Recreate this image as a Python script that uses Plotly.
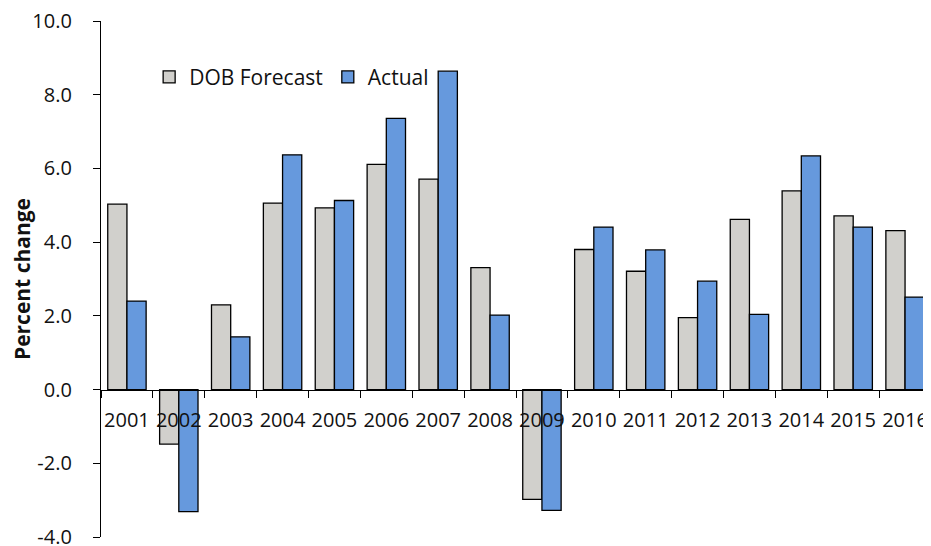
import plotly.graph_objects as go

years = ["2001", "2002", "2003", "2004", "2005", "2006", "2007", "2008",
         "2009", "2010", "2011", "2012", "2013", "2014", "2015", "2016"]
dob_forecast = [5.03, -1.48, 2.30, 5.06, 4.93, 6.11, 5.71, 3.31,
                -2.98, 3.80, 3.21, 1.95, 4.62, 5.39, 4.71, 4.31]
actual = [2.40, -3.31, 1.43, 6.37, 5.13, 7.36, 8.64, 2.02,
          -3.28, 4.41, 3.79, 2.94, 2.04, 6.34, 4.41, 2.51]
y_ticks = [-4, -2, 0, 2, 4, 6, 8, 10]
y_tick_text = ["-4.0", "-2.0", "0.0", "2.0", "4.0", "6.0", "8.0", "10.0"]

FONT = "Open Sans"
fig = go.Figure()
fig.add_trace(go.Bar(x=years, y=dob_forecast, name="DOB Forecast",
                     marker=dict(color="#D1D0CC", line=dict(color="#000000", width=1.3))))
fig.add_trace(go.Bar(x=years, y=actual, name="Actual",
                     marker=dict(color="#6699DD", line=dict(color="#000000", width=1.3))))

# page has an 8px body margin, so the figure is sized to fill the rest of the window
fig.update_layout(
    width=923, height=538,
    margin=dict(l=92.5, r=0, t=12.7, b=8.7),
    paper_bgcolor="white", plot_bgcolor="white",
    barmode="group", bargap=0.26, bargroupgap=0,
    font=dict(family=FONT, size=20, color="#111111"),
    showlegend=True,
    legend=dict(orientation="h", x=0.058, y=0.891, xanchor="left", yanchor="middle",
                bgcolor="rgba(0,0,0,0)", font=dict(family=FONT, size=21),
                itemclick=False, traceorder="normal"),
    xaxis=dict(type="category", anchor="free", position=4/14, automargin=False,
               showline=True, linecolor="#000000", linewidth=1.3,
               ticks="outside", tickson="boundaries", ticklen=7, tickwidth=1.3,
               tickcolor="#000000", showgrid=False, zeroline=False, tickangle=0,
               ticklabelstandoff=12, ticklabeloverflow="allow",
               tickfont=dict(family=FONT, size=20)),
    yaxis=dict(range=[-4, 10], tickmode="array", tickvals=y_ticks, ticktext=y_tick_text,
               automargin=False, ticklabeloverflow="allow",
               showline=True, linecolor="#000000", linewidth=1.3,
               ticks="outside", ticklen=7, tickwidth=1.3, tickcolor="#000000",
               showgrid=False, zeroline=False, ticklabelstandoff=17,
               tickfont=dict(family=FONT, size=20),
               title=dict(text="<b>Percent change</b>", standoff=8,
                          font=dict(family=FONT, size=21))),
)

fig.write_html("out.html")
